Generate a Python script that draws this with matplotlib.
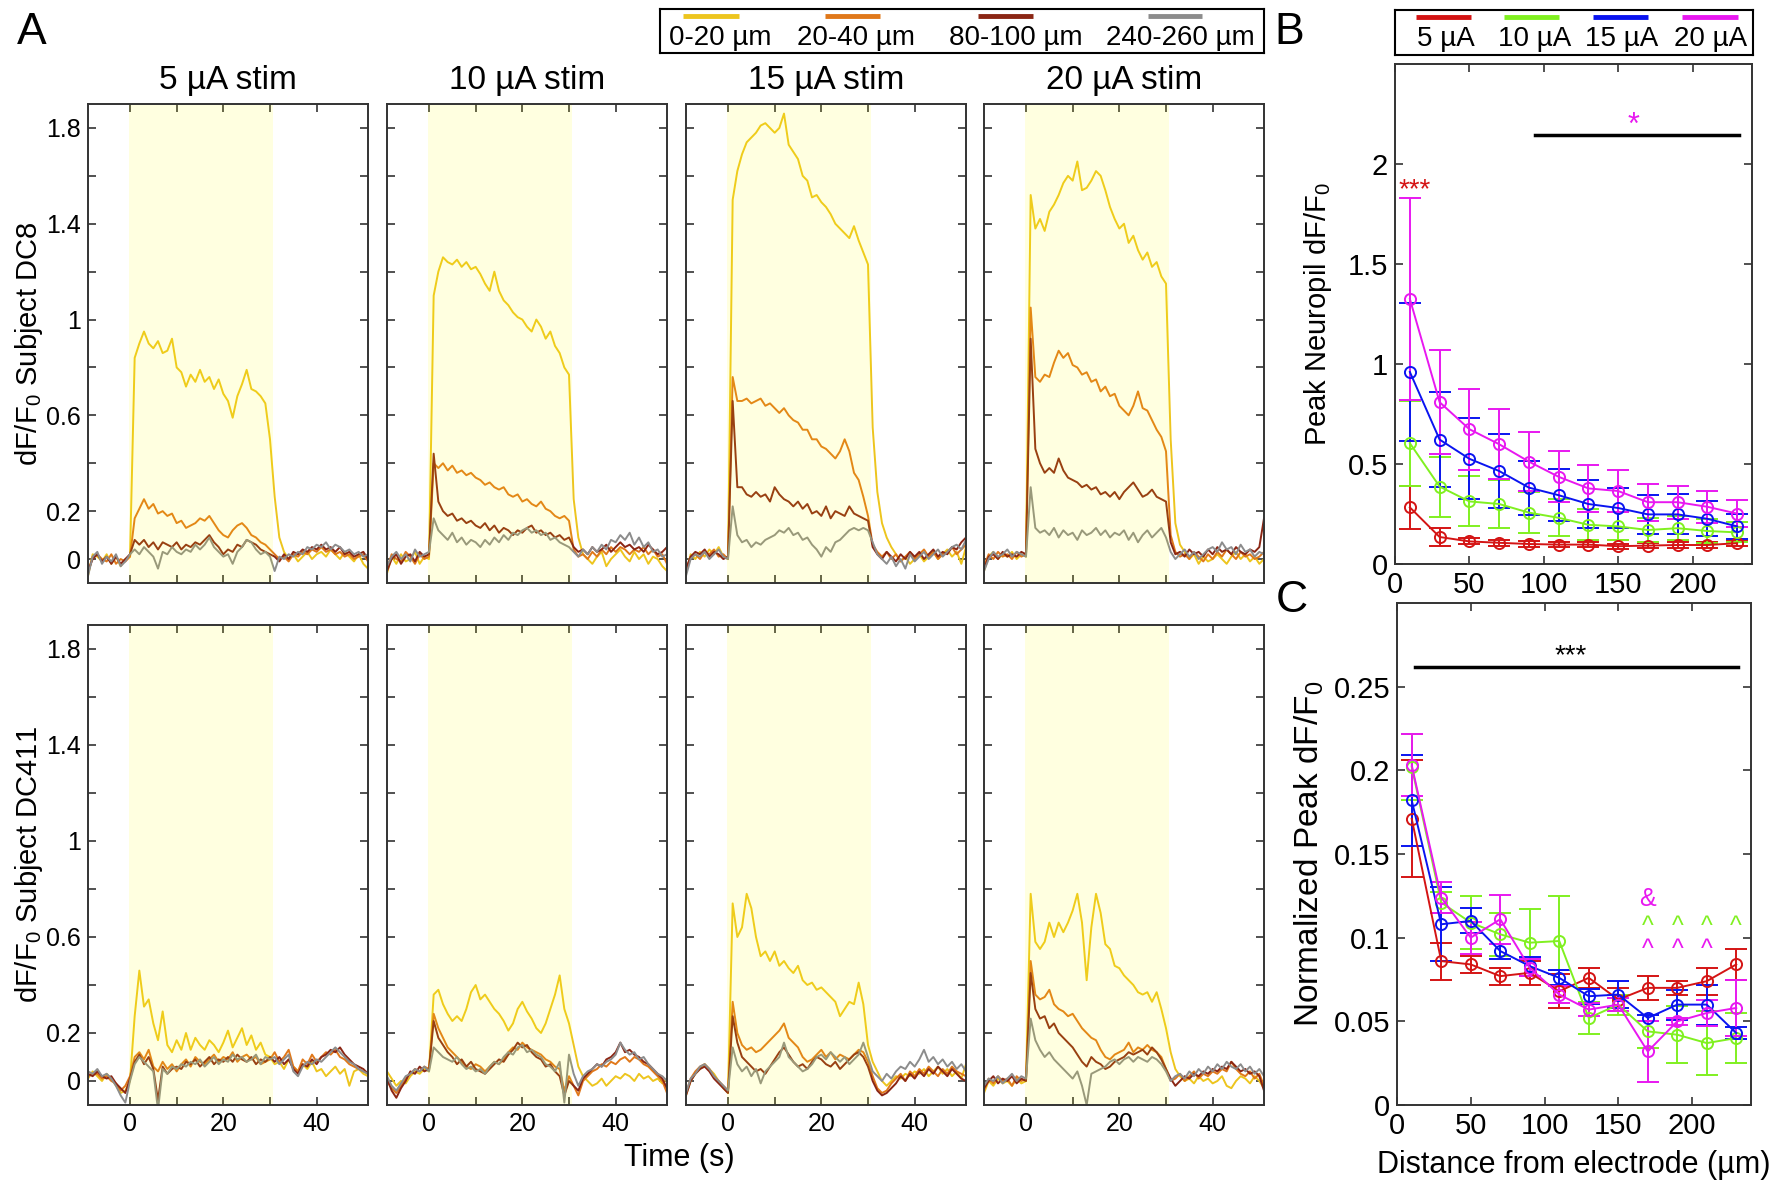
import matplotlib
matplotlib.use('Agg')
import matplotlib.pyplot as plt
import numpy as np
from matplotlib import font_manager
from matplotlib.ticker import FuncFormatter

W, H = 1789, 1192

_names = {f.name for f in font_manager.fontManager.ttflist}
NARROW = 'Liberation Sans Narrow' if 'Liberation Sans Narrow' in _names else 'Liberation Sans'
plt.rcParams.update({
    'font.family': 'Liberation Sans',
    'mathtext.default': 'regular',
    'axes.linewidth': 1.4,
})

# ---------------- data: panel A traces (dF/F0, 1 s steps from -9 to 51 s) -------------
TIME = np.arange(-9, 52)
STIM_ON, STIM_OFF = -0.3, 30.6
BANDS = ['0-20 µm', '20-40 µm', '80-100 µm', '240-260 µm']
AMPS = [5, 10, 15, 20]
SUBJECTS = ['DC8', 'DC411']

DC8_5_A = [-0.07, 0.02, 0.01, -0.01, 0.02, -0.02, 0.01, -0.03, 0.00, 0.01,
           0.84, 0.90, 0.95, 0.90, 0.88, 0.91, 0.86, 0.87, 0.92, 0.80,
           0.78, 0.72, 0.77, 0.74, 0.79, 0.74, 0.76, 0.71, 0.75, 0.69,
           0.66, 0.59, 0.68, 0.73, 0.79, 0.71, 0.70, 0.68, 0.65, 0.50,
           0.26, 0.09, 0.03, 0.00, 0.02, -0.01, 0.01, 0.03, 0.00, 0.02,
           0.03, 0.01, 0.04, 0.02, 0.00, 0.03, 0.01, -0.01, 0.02, -0.02,
           -0.04]
DC8_5_B = [-0.06, 0.01, 0.02, 0.00, -0.01, 0.02, -0.02, 0.00, -0.01, 0.01,
           0.17, 0.21, 0.25, 0.21, 0.23, 0.19, 0.20, 0.18, 0.19, 0.15,
           0.16, 0.13, 0.14, 0.15, 0.17, 0.16, 0.18, 0.15, 0.12, 0.10,
           0.09, 0.12, 0.14, 0.15, 0.13, 0.10, 0.09, 0.07, 0.06, 0.04,
           0.02, 0.00, 0.01, -0.01, 0.02, 0.01, 0.03, 0.02, 0.04, 0.03,
           0.05, 0.03, 0.04, 0.02, 0.03, 0.01, 0.02, 0.00, 0.01, 0.02,
           -0.01]
DC8_5_C = [-0.05, 0.00, 0.02, -0.01, 0.01, -0.02, 0.01, -0.02, 0.00, 0.02,
           0.08, 0.06, 0.08, 0.05, 0.07, 0.04, 0.07, 0.06, 0.05, 0.07,
           0.04, 0.06, 0.05, 0.07, 0.06, 0.08, 0.10, 0.07, 0.05, 0.02,
           0.04, 0.03, 0.06, 0.05, 0.08, 0.07, 0.06, 0.04, 0.03, 0.02,
           0.01, -0.01, 0.02, 0.00, 0.03, 0.02, 0.04, 0.03, 0.05, 0.04,
           0.06, 0.04, 0.05, 0.03, 0.05, 0.02, 0.03, 0.01, 0.02, 0.03,
           0.00]
DC8_5_D = [-0.07, 0.01, 0.03, -0.02, 0.01, -0.01, 0.02, -0.03, -0.01, 0.02,
           0.04, 0.02, 0.05, 0.03, 0.01, -0.04, 0.03, 0.02, 0.05, 0.03,
           0.02, 0.04, 0.03, 0.06, 0.04, 0.06, 0.09, 0.05, 0.03, 0.01,
           0.02, -0.02, 0.03, 0.05, 0.08, 0.07, 0.04, 0.02, 0.03, 0.01,
           -0.05, 0.01, 0.00, 0.02, 0.01, 0.03, 0.02, 0.05, 0.04, 0.06,
           0.05, 0.07, 0.04, 0.06, 0.05, 0.03, 0.04, 0.02, 0.03, 0.01,
           0.02]

DC8_10_A = [-0.06, 0.01, -0.02, 0.02, -0.01, 0.00, 0.03, -0.02, 0.01, 0.00,
            1.10, 1.20, 1.26, 1.24, 1.23, 1.25, 1.22, 1.24, 1.21, 1.22,
            1.19, 1.15, 1.12, 1.20, 1.12, 1.08, 1.06, 1.03, 1.01, 1.00,
            0.97, 0.95, 1.00, 0.97, 0.92, 0.95, 0.89, 0.86, 0.80, 0.77,
            0.25, 0.09, 0.02, 0.00, -0.02, 0.01, 0.03, -0.03, 0.00, 0.02,
            0.04, 0.01, -0.01, 0.03, 0.00, 0.02, -0.02, 0.01, 0.00, -0.03,
            -0.05]
DC8_10_B = [-0.04, 0.02, 0.00, -0.01, 0.03, 0.01, -0.02, 0.02, 0.00, 0.01,
            0.40, 0.38, 0.40, 0.37, 0.39, 0.36, 0.37, 0.35, 0.36, 0.34,
            0.33, 0.31, 0.32, 0.30, 0.29, 0.30, 0.27, 0.26, 0.27, 0.24,
            0.25, 0.23, 0.22, 0.24, 0.21, 0.20, 0.18, 0.17, 0.18, 0.16,
            0.04, 0.01, 0.02, 0.00, 0.03, 0.01, 0.04, 0.02, 0.05, 0.03,
            0.05, 0.04, 0.02, 0.04, 0.03, 0.05, 0.02, 0.04, 0.01, 0.02,
            -0.02]
DC8_10_C = [-0.05, 0.00, 0.02, -0.02, 0.01, 0.02, -0.01, 0.03, 0.01, 0.02,
            0.44, 0.24, 0.20, 0.18, 0.19, 0.16, 0.17, 0.15, 0.16, 0.14,
            0.13, 0.15, 0.12, 0.14, 0.11, 0.13, 0.12, 0.10, 0.12, 0.11,
            0.13, 0.14, 0.11, 0.12, 0.10, 0.11, 0.09, 0.10, 0.08, 0.09,
            0.05, 0.03, 0.04, 0.02, 0.05, 0.03, 0.04, 0.06, 0.03, 0.05,
            0.07, 0.05, 0.06, 0.04, 0.05, 0.03, 0.06, 0.04, 0.02, 0.03,
            0.05]
DC8_10_D = [-0.03, 0.01, 0.03, 0.00, 0.02, -0.01, 0.04, 0.01, 0.02, 0.03,
            0.17, 0.12, 0.10, 0.08, 0.11, 0.07, 0.09, 0.06, 0.08, 0.07,
            0.05, 0.08, 0.06, 0.09, 0.07, 0.10, 0.08, 0.11, 0.10, 0.12,
            0.13, 0.11, 0.12, 0.10, 0.11, 0.08, 0.09, 0.07, 0.06, 0.05,
            0.03, 0.01, 0.04, 0.02, 0.05, 0.03, 0.06, 0.04, 0.08, 0.07,
            0.10, 0.08, 0.11, 0.06, 0.09, 0.05, 0.07, 0.03, 0.04, 0.01,
            0.02]

DC8_15_A = [-0.06, 0.02, 0.00, 0.03, 0.01, 0.04, 0.02, 0.05, 0.01, 0.00,
            1.50, 1.62, 1.69, 1.74, 1.76, 1.78, 1.81, 1.82, 1.80, 1.78,
            1.80, 1.86, 1.73, 1.70, 1.67, 1.60, 1.58, 1.51, 1.52, 1.49,
            1.47, 1.44, 1.40, 1.38, 1.36, 1.34, 1.39, 1.33, 1.28, 1.23,
            0.55, 0.28, 0.15, 0.09, 0.05, 0.02, -0.01, 0.01, -0.02, 0.00,
            0.02, -0.01, 0.01, 0.03, 0.00, 0.02, 0.04, 0.01, 0.03, -0.02,
            0.05]
DC8_15_B = [-0.05, 0.01, 0.02, 0.00, 0.03, 0.02, 0.04, 0.01, 0.02, 0.00,
            0.76, 0.66, 0.66, 0.67, 0.65, 0.66, 0.67, 0.64, 0.65, 0.63,
            0.61, 0.63, 0.60, 0.58, 0.57, 0.54, 0.54, 0.50, 0.50, 0.47,
            0.46, 0.44, 0.42, 0.45, 0.50, 0.45, 0.36, 0.33, 0.26, 0.18,
            0.06, 0.03, 0.01, 0.03, 0.00, 0.02, -0.01, 0.01, 0.03, 0.00,
            0.02, 0.04, 0.01, 0.03, 0.00, 0.02, 0.03, 0.05, 0.02, 0.04,
            0.06]
DC8_15_C = [-0.04, 0.01, 0.03, 0.02, 0.04, 0.01, 0.03, 0.02, 0.00, 0.01,
            0.66, 0.30, 0.30, 0.27, 0.26, 0.28, 0.26, 0.27, 0.24, 0.30,
            0.27, 0.25, 0.24, 0.22, 0.24, 0.21, 0.23, 0.19, 0.20, 0.18,
            0.22, 0.17, 0.20, 0.19, 0.18, 0.22, 0.19, 0.18, 0.17, 0.16,
            0.05, 0.02, 0.00, 0.03, 0.01, -0.01, 0.02, 0.00, 0.03, 0.01,
            0.03, 0.00, 0.02, 0.04, 0.01, 0.03, 0.02, 0.05, 0.04, 0.07,
            0.09]
DC8_15_D = [-0.07, 0.00, 0.02, 0.01, 0.03, 0.00, 0.02, 0.04, 0.01, 0.00,
            0.22, 0.10, 0.07, 0.08, 0.05, 0.07, 0.06, 0.08, 0.09, 0.10,
            0.12, 0.11, 0.13, 0.10, 0.11, 0.08, 0.09, 0.06, 0.04, 0.01,
            0.05, 0.03, 0.07, 0.08, 0.10, 0.12, 0.13, 0.12, 0.13, 0.12,
            0.07, 0.02, 0.00, -0.02, 0.01, -0.03, 0.00, -0.04, 0.02, -0.01,
            0.01, 0.03, 0.00, 0.02, 0.04, 0.01, 0.03, 0.05, 0.06, 0.04,
            0.08]

DC8_20_A = [-0.05, 0.01, 0.03, 0.00, 0.02, 0.01, 0.03, 0.00, 0.02, 0.01,
            1.52, 1.38, 1.42, 1.37, 1.45, 1.48, 1.52, 1.57, 1.60, 1.58,
            1.66, 1.54, 1.55, 1.58, 1.62, 1.60, 1.54, 1.47, 1.42, 1.38,
            1.40, 1.32, 1.35, 1.29, 1.25, 1.28, 1.22, 1.24, 1.18, 1.15,
            0.50, 0.15, 0.06, 0.03, 0.00, 0.02, -0.02, 0.01, -0.01, 0.00,
            0.02, 0.00, -0.02, 0.01, 0.03, 0.00, 0.02, -0.01, 0.01, -0.02,
            0.00]
DC8_20_B = [-0.03, 0.02, 0.00, 0.03, 0.01, 0.02, 0.00, 0.03, 0.01, 0.02,
            1.05, 0.76, 0.74, 0.77, 0.76, 0.82, 0.87, 0.84, 0.86, 0.81,
            0.80, 0.77, 0.78, 0.74, 0.75, 0.70, 0.72, 0.68, 0.69, 0.64,
            0.62, 0.60, 0.64, 0.70, 0.63, 0.62, 0.58, 0.54, 0.51, 0.45,
            0.10, 0.03, 0.01, 0.02, 0.00, 0.03, 0.01, -0.01, 0.02, 0.00,
            0.03, 0.01, 0.04, 0.02, 0.00, 0.03, 0.01, 0.02, 0.00, 0.01,
            0.03]
DC8_20_C = [-0.04, 0.01, 0.02, 0.00, 0.03, 0.01, 0.02, 0.01, 0.03, 0.02,
            0.92, 0.46, 0.40, 0.36, 0.38, 0.36, 0.42, 0.37, 0.34, 0.33,
            0.32, 0.30, 0.31, 0.29, 0.30, 0.27, 0.28, 0.26, 0.28, 0.25,
            0.28, 0.30, 0.32, 0.29, 0.26, 0.27, 0.29, 0.26, 0.25, 0.24,
            0.07, 0.02, 0.03, 0.01, 0.04, 0.02, 0.03, 0.01, 0.04, 0.02,
            0.05, 0.03, 0.04, 0.02, 0.05, 0.03, 0.02, 0.04, 0.03, 0.05,
            0.17]
DC8_20_D = [-0.05, 0.00, 0.03, 0.01, 0.02, 0.04, 0.01, 0.03, 0.02, 0.01,
            0.30, 0.13, 0.11, 0.12, 0.10, 0.13, 0.09, 0.12, 0.10, 0.11,
            0.08, 0.12, 0.10, 0.11, 0.13, 0.10, 0.12, 0.09, 0.11, 0.10,
            0.12, 0.08, 0.11, 0.07, 0.10, 0.12, 0.09, 0.11, 0.13, 0.09,
            0.03, 0.00, 0.02, 0.04, 0.01, 0.03, 0.00, 0.02, 0.04, 0.05,
            0.03, 0.07, 0.04, 0.05, 0.02, 0.06, 0.03, 0.04, 0.01, 0.03,
            0.02]

DC411_5_A = [0.01, 0.04, 0.02, 0.00, 0.03, 0.01, -0.02, -0.05, -0.04, 0.00,
             0.27, 0.46, 0.31, 0.34, 0.24, 0.17, 0.29, 0.15, 0.12, 0.17,
             0.13, 0.20, 0.13, 0.18, 0.15, 0.13, 0.17, 0.15, 0.12, 0.16,
             0.21, 0.14, 0.18, 0.22, 0.15, 0.19, 0.13, 0.16, 0.11, 0.10,
             0.07, 0.08, 0.05, 0.09, 0.06, 0.04, 0.07, 0.05, 0.08, 0.04,
             0.05, 0.02, 0.04, 0.06, 0.03, 0.05, -0.02, 0.04, 0.05, 0.03,
             0.02]
DC411_5_B = [0.02, 0.03, 0.03, 0.01, 0.02, 0.00, -0.01, -0.04, -0.02, 0.02,
             0.10, 0.12, 0.09, 0.13, 0.06, 0.04, 0.08, 0.05, 0.07, 0.04,
             0.07, 0.09, 0.06, 0.10, 0.08, 0.07, 0.09, 0.11, 0.08, 0.10,
             0.09, 0.12, 0.08, 0.10, 0.11, 0.09, 0.10, 0.07, 0.08, 0.09,
             0.12, 0.08, 0.10, 0.13, 0.06, 0.04, 0.09, 0.07, 0.11, 0.08,
             0.10, 0.12, 0.11, 0.13, 0.10, 0.09, 0.07, 0.06, 0.05, 0.04,
             0.03]
DC411_5_C = [0.03, 0.02, 0.04, 0.02, 0.01, 0.02, -0.01, -0.03, -0.05, 0.01,
             0.08, 0.11, 0.07, 0.10, 0.05, -0.08, 0.06, 0.03, 0.05, 0.06,
             0.05, 0.08, 0.07, 0.09, 0.06, 0.08, 0.10, 0.07, 0.09, 0.08,
             0.10, 0.08, 0.11, 0.09, 0.08, 0.10, 0.07, 0.09, 0.08, 0.10,
             0.08, 0.10, 0.07, 0.09, 0.05, 0.03, 0.07, 0.06, 0.09, 0.07,
             0.10, 0.11, 0.13, 0.12, 0.14, 0.11, 0.09, 0.07, 0.06, 0.05,
             0.03]
DC411_5_D = [0.04, 0.03, 0.05, 0.02, 0.03, 0.01, -0.02, -0.06, -0.09, 0.00,
             0.07, 0.10, 0.08, 0.06, 0.04, -0.12, 0.05, 0.03, 0.06, 0.05,
             0.07, 0.06, 0.08, 0.07, 0.09, 0.06, 0.08, 0.10, 0.07, 0.09,
             0.08, 0.11, 0.09, 0.10, 0.08, 0.09, 0.11, 0.07, 0.10, 0.09,
             0.10, 0.07, 0.09, 0.11, 0.04, 0.02, 0.06, 0.08, 0.07, 0.09,
             0.08, 0.10, 0.12, 0.14, 0.12, 0.10, 0.08, 0.07, 0.05, 0.04,
             0.03]

DC411_10_A = [0.04, 0.01, -0.02, 0.00, -0.01, 0.02, 0.04, 0.03, 0.05, 0.04,
              0.36, 0.38, 0.32, 0.28, 0.25, 0.27, 0.25, 0.30, 0.37, 0.40,
              0.34, 0.36, 0.33, 0.30, 0.28, 0.25, 0.21, 0.24, 0.30, 0.33,
              0.29, 0.26, 0.22, 0.20, 0.24, 0.30, 0.36, 0.44, 0.30, 0.24,
              0.15, 0.06, 0.02, 0.00, -0.02, -0.01, 0.01, -0.02, 0.00, 0.02,
              0.01, 0.03, 0.02, 0.00, 0.03, 0.01, 0.02, 0.00, 0.01, -0.01,
              0.01]
DC411_10_B = [0.00, -0.03, -0.05, -0.02, 0.01, 0.03, 0.05, 0.04, 0.06, 0.05,
              0.28, 0.22, 0.18, 0.14, 0.12, 0.10, 0.08, 0.06, 0.05, 0.07,
              0.06, 0.04, 0.06, 0.08, 0.07, 0.09, 0.12, 0.14, 0.13, 0.16,
              0.14, 0.13, 0.12, 0.11, 0.09, 0.08, 0.06, 0.05, -0.04, 0.02,
              -0.02, -0.06, 0.00, 0.02, 0.04, 0.05, 0.07, 0.06, 0.08, 0.07,
              0.09, 0.10, 0.08, 0.10, 0.09, 0.07, 0.06, 0.04, 0.02, 0.00,
              -0.05]
DC411_10_C = [0.01, -0.04, -0.07, -0.03, 0.00, 0.04, 0.03, 0.06, 0.04, 0.05,
              0.25, 0.18, 0.15, 0.12, 0.10, 0.07, 0.09, 0.06, 0.08, 0.05,
              0.04, 0.03, 0.05, 0.07, 0.09, 0.08, 0.11, 0.13, 0.16, 0.14,
              0.15, 0.12, 0.10, 0.09, 0.06, 0.07, 0.04, 0.02, -0.06, 0.00,
              -0.02, -0.04, 0.01, 0.03, 0.05, 0.07, 0.06, 0.09, 0.10, 0.12,
              0.16, 0.12, 0.13, 0.11, 0.10, 0.08, 0.07, 0.05, 0.03, 0.01,
              -0.03]
DC411_10_D = [0.02, -0.02, -0.04, -0.01, 0.02, 0.03, 0.05, 0.04, 0.06, 0.04,
              0.14, 0.12, 0.10, 0.09, 0.08, 0.10, 0.07, 0.05, 0.06, 0.04,
              0.05, 0.03, 0.06, 0.08, 0.07, 0.10, 0.12, 0.11, 0.14, 0.15,
              0.12, 0.13, 0.11, 0.10, 0.07, 0.06, 0.04, 0.08, -0.09, 0.11,
              0.03, -0.02, 0.02, 0.04, 0.05, 0.07, 0.06, 0.08, 0.09, 0.11,
              0.16, 0.13, 0.11, 0.12, 0.09, 0.10, 0.07, 0.05, 0.03, 0.02,
              0.00]

DC411_15_A = [-0.06, 0.00, 0.03, 0.05, 0.07, 0.05, 0.03, 0.00, -0.03, -0.05,
              0.74, 0.60, 0.64, 0.78, 0.72, 0.60, 0.52, 0.54, 0.50, 0.54,
              0.48, 0.50, 0.47, 0.45, 0.48, 0.42, 0.40, 0.41, 0.38, 0.39,
              0.37, 0.35, 0.33, 0.27, 0.30, 0.33, 0.32, 0.41, 0.32, 0.15,
              0.08, 0.04, 0.00, -0.02, 0.00, 0.02, 0.01, 0.03, 0.02, 0.04,
              0.03, 0.05, 0.02, 0.04, 0.06, 0.03, 0.05, 0.02, 0.04, 0.01,
              0.07]
DC411_15_B = [-0.05, 0.01, 0.04, 0.06, 0.07, 0.05, 0.02, 0.00, -0.02, -0.04,
              0.33, 0.20, 0.15, 0.13, 0.14, 0.12, 0.13, 0.15, 0.17, 0.19,
              0.21, 0.24, 0.18, 0.16, 0.14, 0.10, 0.08, 0.09, 0.11, 0.13,
              0.10, 0.12, 0.09, 0.11, 0.10, 0.09, 0.11, 0.13, 0.12, 0.08,
              0.02, -0.03, -0.05, -0.04, -0.01, 0.01, 0.03, 0.00, 0.04, 0.02,
              0.05, 0.03, 0.06, 0.04, 0.02, 0.05, 0.03, 0.06, 0.04, 0.03,
              0.02]
DC411_15_C = [-0.06, 0.00, 0.03, 0.05, 0.06, 0.04, 0.01, -0.01, -0.03, -0.05,
              0.27, 0.16, 0.10, 0.08, 0.06, 0.04, 0.05, 0.03, 0.06, 0.09,
              0.12, 0.14, 0.11, 0.08, 0.06, 0.07, 0.05, 0.08, 0.10, 0.09,
              0.07, 0.06, 0.08, 0.05, 0.07, 0.09, 0.11, 0.12, 0.10, 0.06,
              0.00, -0.04, -0.06, -0.05, -0.03, -0.01, 0.02, 0.00, 0.03, 0.01,
              0.04, 0.02, 0.05, 0.03, 0.06, 0.04, 0.02, 0.05, 0.03, 0.01,
              0.00]
DC411_15_D = [-0.05, 0.01, 0.03, 0.06, 0.07, 0.05, 0.02, 0.00, -0.02, -0.04,
              0.14, 0.07, 0.04, 0.06, 0.02, 0.05, -0.01, 0.04, 0.06, 0.08,
              0.10, 0.16, 0.10, 0.08, 0.06, 0.04, 0.05, 0.07, 0.10, 0.11,
              0.09, 0.12, 0.10, 0.08, 0.10, 0.07, 0.09, 0.11, 0.16, 0.10,
              0.04, 0.02, 0.00, 0.03, 0.01, 0.04, 0.06, 0.05, 0.08, 0.06,
              0.09, 0.13, 0.08, 0.10, 0.07, 0.09, 0.06, 0.08, 0.05, 0.07,
              0.04]

DC411_20_A = [-0.05, 0.00, -0.02, 0.01, -0.01, 0.00, -0.02, 0.01, -0.01, 0.00,
              0.78, 0.58, 0.55, 0.58, 0.66, 0.60, 0.66, 0.62, 0.66, 0.71,
              0.78, 0.66, 0.42, 0.64, 0.78, 0.70, 0.57, 0.55, 0.48, 0.47,
              0.44, 0.42, 0.40, 0.37, 0.36, 0.37, 0.33, 0.37, 0.30, 0.22,
              0.12, 0.05, 0.02, 0.00, 0.01, -0.01, 0.02, 0.00, 0.01, -0.01,
              0.00, 0.02, -0.02, -0.03, 0.00, 0.02, 0.01, -0.01, 0.02, 0.00,
              -0.03]
DC411_20_B = [-0.04, 0.01, -0.01, 0.02, 0.00, 0.01, -0.02, 0.02, 0.00, 0.01,
              0.50, 0.36, 0.34, 0.35, 0.38, 0.32, 0.30, 0.29, 0.27, 0.28,
              0.25, 0.22, 0.20, 0.18, 0.17, 0.13, 0.10, 0.09, 0.11, 0.12,
              0.13, 0.16, 0.12, 0.14, 0.13, 0.15, 0.13, 0.12, 0.10, 0.05,
              0.00, 0.01, 0.03, 0.00, 0.02, 0.04, 0.01, 0.03, 0.02, 0.04,
              0.03, 0.05, 0.04, 0.08, 0.05, 0.03, 0.02, 0.04, 0.01, 0.03,
              -0.02]
DC411_20_C = [-0.03, 0.00, 0.02, -0.01, 0.01, 0.00, 0.02, -0.01, 0.01, 0.00,
              0.45, 0.30, 0.26, 0.27, 0.22, 0.24, 0.20, 0.18, 0.16, 0.14,
              0.11, 0.08, 0.06, 0.10, 0.08, 0.07, 0.05, 0.06, 0.08, 0.09,
              0.10, 0.12, 0.11, 0.12, 0.13, 0.11, 0.14, 0.12, 0.09, 0.05,
              0.01, -0.02, 0.00, 0.02, 0.01, 0.03, 0.02, 0.04, 0.03, 0.05,
              0.04, 0.06, 0.05, 0.08, 0.06, 0.04, 0.05, 0.03, 0.04, 0.02,
              -0.04]
DC411_20_D = [-0.02, 0.01, 0.00, 0.02, -0.01, 0.01, 0.03, 0.00, 0.02, 0.01,
              0.26, 0.17, 0.13, 0.10, 0.12, 0.09, 0.07, 0.05, 0.03, 0.01,
              0.04, -0.02, -0.10, 0.03, 0.04, 0.05, 0.06, 0.08, 0.09, 0.07,
              0.09, 0.10, 0.08, 0.10, 0.09, 0.08, 0.10, 0.09, 0.07, 0.04,
              0.00, 0.02, 0.03, 0.01, 0.04, 0.02, 0.05, 0.03, 0.06, 0.04,
              0.07, 0.05, 0.08, 0.06, 0.05, 0.07, 0.04, 0.06, 0.03, 0.05,
              0.02]

TRACES = {
    ('DC8', 5): [DC8_5_A, DC8_5_B, DC8_5_C, DC8_5_D],
    ('DC8', 10): [DC8_10_A, DC8_10_B, DC8_10_C, DC8_10_D],
    ('DC8', 15): [DC8_15_A, DC8_15_B, DC8_15_C, DC8_15_D],
    ('DC8', 20): [DC8_20_A, DC8_20_B, DC8_20_C, DC8_20_D],
    ('DC411', 5): [DC411_5_A, DC411_5_B, DC411_5_C, DC411_5_D],
    ('DC411', 10): [DC411_10_A, DC411_10_B, DC411_10_C, DC411_10_D],
    ('DC411', 15): [DC411_15_A, DC411_15_B, DC411_15_C, DC411_15_D],
    ('DC411', 20): [DC411_20_A, DC411_20_B, DC411_20_C, DC411_20_D],
}

# ---------------- data: panels B and C (mean +/- SEM vs distance) -------------
DIST = [10, 30, 50, 70, 90, 110, 130, 150, 170, 190, 210, 230]
DOSE_LABELS = ['5 µA', '10 µA', '15 µA', '20 µA']

B_5UA = [0.283, 0.135, 0.113, 0.106, 0.100, 0.097, 0.097, 0.089, 0.092, 0.095, 0.095, 0.104]
B_5UA_SEM = [0.108, 0.047, 0.015, 0.015, 0.013, 0.013, 0.013, 0.013, 0.013, 0.013, 0.013, 0.012]
B_10UA = [0.604, 0.387, 0.313, 0.300, 0.257, 0.231, 0.196, 0.188, 0.170, 0.179, 0.165, 0.158]
B_10UA_SEM = [0.212, 0.150, 0.125, 0.120, 0.103, 0.093, 0.078, 0.070, 0.060, 0.060, 0.058, 0.050]
B_15UA = [0.960, 0.622, 0.526, 0.465, 0.382, 0.344, 0.300, 0.280, 0.248, 0.248, 0.226, 0.188]
B_15UA_SEM = [0.343, 0.237, 0.203, 0.186, 0.135, 0.130, 0.122, 0.102, 0.096, 0.100, 0.087, 0.064]
B_20UA = [1.325, 0.809, 0.674, 0.599, 0.512, 0.436, 0.378, 0.365, 0.309, 0.309, 0.286, 0.252]
B_20UA_SEM = [0.503, 0.259, 0.203, 0.174, 0.148, 0.128, 0.117, 0.105, 0.092, 0.082, 0.079, 0.066]

C_5UA = [0.171, 0.086, 0.084, 0.077, 0.079, 0.068, 0.076, 0.063, 0.070, 0.070, 0.074, 0.084]
C_5UA_SEM = [0.035, 0.011, 0.005, 0.005, 0.007, 0.010, 0.006, 0.007, 0.007, 0.004, 0.008, 0.009]
C_10UA = [0.202, 0.121, 0.109, 0.102, 0.097, 0.098, 0.052, 0.060, 0.044, 0.042, 0.037, 0.040]
C_10UA_SEM = [0.020, 0.006, 0.016, 0.013, 0.020, 0.027, 0.0095, 0.006, 0.010, 0.017, 0.019, 0.015]
C_15UA = [0.182, 0.108, 0.110, 0.092, 0.083, 0.076, 0.065, 0.066, 0.052, 0.060, 0.060, 0.043]
C_15UA_SEM = [0.027, 0.022, 0.0075, 0.0045, 0.0057, 0.0045, 0.0045, 0.008, 0.002, 0.009, 0.012, 0.0035]
C_20UA = [0.203, 0.124, 0.100, 0.111, 0.082, 0.066, 0.057, 0.060, 0.032, 0.050, 0.055, 0.058]
C_20UA_SEM = [0.0185, 0.0095, 0.0095, 0.0147, 0.005, 0.005, 0.004, 0.004, 0.018, 0.002, 0.008, 0.017]

# significance marks
B_SIG_LINE = (94, 231, 2.146)
C_SIG_LINE = (12, 231, 0.262)
C_CARET_X = [170, 190, 210, 230]

# ---------------- styling -------------
BAND_COLORS = ['#EDC51E', '#E0781A', '#8B2614', '#8C8C8C']
DOSE_COLORS = ['#D41414', '#80F020', '#0A14F0', '#E818F0']
SPINE = '#333333'


def px_axes(fig, left, top, right, bottom):
    return fig.add_axes([left / W, 1 - bottom / H, (right - left) / W, (bottom - top) / H])


def narrow_ticks(ax, size):
    for lbl in ax.get_xticklabels() + ax.get_yticklabels():
        lbl.set_fontfamily(NARROW)
        lbl.set_fontsize(size)


fmt_g = FuncFormatter(lambda v, p: f'{v:g}')

fig = plt.figure(figsize=(W / 100, H / 100), dpi=100)

# ---------------- panel A -------------
A_LEFTS = [88, 387, 686, 984]
A_WIDTH = 280
A_ROWS = [(104, 583), (625, 1105)]

for r, subj in enumerate(SUBJECTS):
    top, bottom = A_ROWS[r]
    for c, amp in enumerate(AMPS):
        ax = px_axes(fig, A_LEFTS[c], top, A_LEFTS[c] + A_WIDTH, bottom)
        for vals, col in zip(TRACES[(subj, amp)], BAND_COLORS):
            ax.plot(TIME, vals, color=col, lw=1.4, zorder=2)
        ax.axvspan(STIM_ON, STIM_OFF, color='#FFFF00', alpha=0.12, lw=0, zorder=3)
        ax.set_xlim(-9, 51)
        ax.set_ylim(-0.1, 1.9)
        ax.set_xticks([0, 20, 40])
        ax.set_xticks([10, 30], minor=True)
        ax.set_yticks([0, 0.2, 0.6, 1, 1.4, 1.8])
        ax.set_yticks([0.4, 0.8, 1.2, 1.6], minor=True)
        ax.yaxis.set_major_formatter(fmt_g)
        ax.tick_params(which='both', direction='in', length=6, width=1.2, color=SPINE,
                       top=True, right=True, pad=5)
        for s in ax.spines.values():
            s.set_color(SPINE)
            s.set_zorder(5)
        if c > 0:
            ax.tick_params(labelleft=False)
        if r == 0:
            ax.tick_params(labelbottom=False)
            ax.text(0.5, 1.05, f'{amp} µA stim', transform=ax.transAxes, ha='center',
                    va='center', fontsize=24, fontfamily=NARROW)
        narrow_ticks(ax, 18)
        if c == 0:
            ax.set_ylabel(f'dF/F$_0$ Subject {subj}', fontsize=21)
            ax.yaxis.set_label_coords(-0.155, 0.5)

fig.text(679 / W, 1 - 1158 / H, 'Time (s)', ha='center', va='center', fontsize=22,
         fontfamily=NARROW)

# ---------------- panel B -------------
axB = px_axes(fig, 1395, 64, 1752, 564)
for m, e, col in zip([B_5UA, B_10UA, B_15UA, B_20UA],
                     [B_5UA_SEM, B_10UA_SEM, B_15UA_SEM, B_20UA_SEM], DOSE_COLORS):
    axB.errorbar(DIST, m, yerr=e, color=col, marker='o', mfc='none', ms=8, mew=1.4,
                 lw=1.4, elinewidth=1.4, capsize=8, capthick=2.4)
axB.set_xlim(0, 240)
axB.set_ylim(0, 2.5)
axB.set_xticks([0, 50, 100, 150, 200])
axB.set_yticks([0, 0.5, 1, 1.5, 2])
axB.yaxis.set_major_formatter(fmt_g)
axB.plot(B_SIG_LINE[:2], [B_SIG_LINE[2]] * 2, color='black', lw=2.5)
axB.text(160, 2.19, '*', color=DOSE_COLORS[3], fontsize=22, ha='center', va='center')
axB.text(13, 1.87, '***', color=DOSE_COLORS[0], fontsize=20, ha='center', va='center')
axB.set_ylabel('Peak Neuropil dF/F$_0$', fontsize=21)
axB.yaxis.set_label_coords(-0.17, 0.5)

# ---------------- panel C -------------
axC = px_axes(fig, 1397, 603, 1751, 1105)
for m, e, col in zip([C_5UA, C_10UA, C_15UA, C_20UA],
                     [C_5UA_SEM, C_10UA_SEM, C_15UA_SEM, C_20UA_SEM], DOSE_COLORS):
    axC.errorbar(DIST, m, yerr=e, color=col, marker='o', mfc='none', ms=8, mew=1.4,
                 lw=1.4, elinewidth=1.4, capsize=8, capthick=2.4)
axC.set_xlim(0, 240)
axC.set_ylim(0, 0.3)
axC.set_xticks([0, 50, 100, 150, 200])
axC.set_yticks([0, 0.05, 0.1, 0.15, 0.2, 0.25])
axC.yaxis.set_major_formatter(fmt_g)
axC.plot(C_SIG_LINE[:2], [C_SIG_LINE[2]] * 2, color='black', lw=2.5)
axC.text(118, 0.268, '***', color='black', fontsize=20, ha='center', va='center')
axC.text(C_CARET_X[0], 0.123, '&', color=DOSE_COLORS[3], fontsize=18, ha='center', va='center')
for x in C_CARET_X:
    axC.text(x, 0.1065, '^', color=DOSE_COLORS[1], fontsize=18, ha='center', va='center')
for x in C_CARET_X[:3]:
    axC.text(x, 0.0925, '^', color=DOSE_COLORS[3], fontsize=18, ha='center', va='center')
axC.set_ylabel('Normalized Peak dF/F$_0$', fontsize=24)
axC.yaxis.set_label_coords(-0.2, 0.5)
axC.set_xlabel('Distance from electrode (µm)', fontsize=22, labelpad=7)

for ax in (axB, axC):
    ax.tick_params(direction='in', length=6, width=1.2, color=SPINE, top=True, right=True,
                   labelsize=21, pad=5)
    for s in ax.spines.values():
        s.set_color(SPINE)

# ---------------- legends (drawn in pixel boxes) -------------
def legend_box(left, top, right, bottom, items, colors):
    lg = px_axes(fig, left, top, right, bottom)
    lg.set_xlim(0, right - left)
    lg.set_ylim(bottom - top, 0)
    lg.set_xticks([])
    lg.set_yticks([])
    for s in lg.spines.values():
        s.set_color('black')
        s.set_linewidth(1.5)
    for (txt, tx, l0, l1), col in zip(items, colors):
        lg.plot([l0, l1], [7, 7], color=col, lw=3.5, solid_capstyle='butt')
        lg.text(tx, 29, txt, ha='center', va='center', fontsize=20, fontfamily=NARROW)


legend_box(660, 9, 1264, 53,
           [(BANDS[0], 60, 23, 79), (BANDS[1], 196, 165, 220),
            (BANDS[2], 356, 318, 373), (BANDS[3], 520, 488, 542)], BAND_COLORS)
legend_box(1395, 10, 1753, 55,
           [(DOSE_LABELS[0], 51, 21, 76), (DOSE_LABELS[1], 140, 109, 164),
            (DOSE_LABELS[2], 227, 198, 253), (DOSE_LABELS[3], 316, 287, 343)], DOSE_COLORS)

# panel letters
fig.text(32 / W, 1 - 32 / H, 'A', fontsize=32, ha='center', va='center')
fig.text(1289 / W, 1 - 32 / H, 'B', fontsize=32, ha='center', va='center')
fig.text(1292 / W, 1 - 601 / H, 'C', fontsize=32, ha='center', va='center')

fig.savefig('out.png', dpi=100)
